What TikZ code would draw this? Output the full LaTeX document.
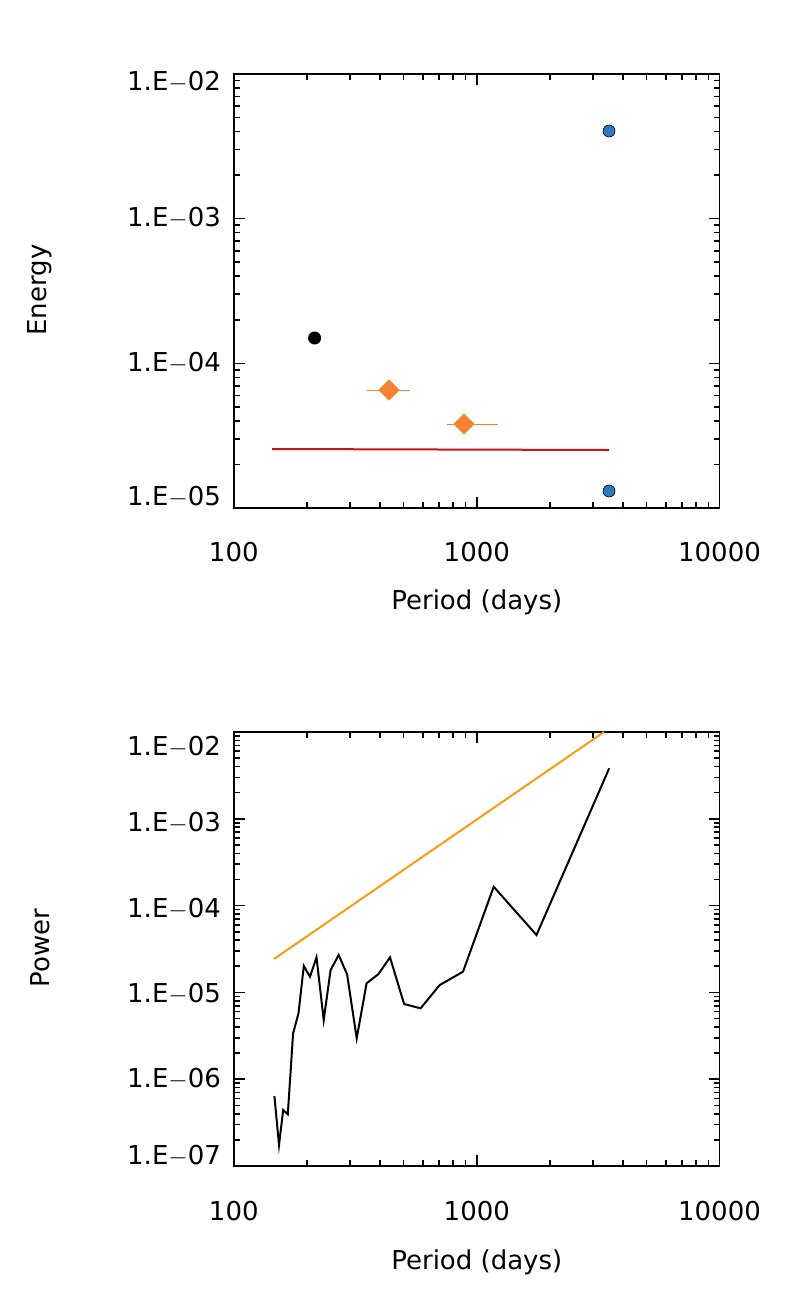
\documentclass[tikz,border=0pt]{standalone}
\usepackage{fontspec}
\setmainfont{DejaVu Sans}
\usepackage{tikz}
\usetikzlibrary{shapes.geometric}
\definecolor{fitred}{RGB}{200,20,20}
\definecolor{diamorange}{RGB}{245,130,50}
\definecolor{lineorange}{RGB}{250,155,20}
\definecolor{dotblue}{RGB}{46,120,190}

\begin{document}
\begin{tikzpicture}[x=1pt,y=1pt,yscale=-1,line width=1.6pt,
  ticklabel/.style={font=\fontsize{26}{28}\selectfont},
  axislabel/.style={font=\fontsize{26}{28}\selectfont},
  bluedot/.style={circle,draw=black,line width=0.6pt,fill=dotblue,inner sep=0pt,minimum size=12pt},
  diam/.style={diamond,fill=diamorange,inner sep=0pt,minimum size=22pt}]
\useasboundingbox (0,0) rectangle (789,1315);

%Top panel frame
\draw (233.8,74) rectangle (719.5,508);
%x ticks top panel
\foreach \d in {0,1}{
  \draw (233.8+243*\d,508) -- ++(0,-11) (233.8+243*\d,74) -- ++(0,11);
  \foreach \m in {2,...,9}{
    \pgfmathsetmacro\xx{233.8+243*(\d+log10(\m))}
    \draw (\xx,508) -- ++(0,-6) (\xx,74) -- ++(0,6);}}
%y ticks top panel
\foreach \d in {0,1,2}{
  \draw (233.8,508-144.7*\d) -- ++(11,0) (719.5,508-144.7*\d) -- ++(-11,0);
  \foreach \m in {2,...,9}{
    \pgfmathsetmacro\yy{508-144.7*(\d+log10(\m))}
    \draw (233.8,\yy) -- ++(6,0) (719.5,\yy) -- ++(-6,0);}}
\foreach \lab/\y in {02/82,03/218,04/363,05/497}
  \node[ticklabel,anchor=east] (ey\lab) at (225,\y) {1.E$-$\lab};
\foreach \lab/\x in {100/233.8,1000/476.8,10000/719.5}
  \node[ticklabel] (ex\lab) at (\x,552) {\lab};
\node[axislabel] (exlabel) at (476.8,602) {Period (days)};
\node[axislabel,rotate=90] (eylabel) at (40,290) {Energy};

%data top panel
\draw[fitred,line width=2pt] (272,449) -- (609,450);
\draw[diamorange,line width=1pt] (367,390) -- (410,390) (447,424) -- (498,424);
\node[diam] (d1) at (389,390) {};
\node[diam] (d2) at (464,424) {};
\node[circle,fill=black,inner sep=0pt,minimum size=13pt] (bk) at (314.6,338) {};
\node[bluedot] (b1) at (609,131) {};
\node[bluedot] (b2) at (609,491) {};

%Bottom panel frame
\draw (233.8,732) rectangle (719.5,1166);
\foreach \d in {0,1}{
  \draw (233.8+243*\d,1166) -- ++(0,-11) (233.8+243*\d,732) -- ++(0,11);
  \foreach \m in {2,...,9}{
    \pgfmathsetmacro\xx{233.8+243*(\d+log10(\m))}
    \draw (\xx,1166) -- ++(0,-6) (\xx,732) -- ++(0,6);}}
\foreach \d in {0,...,4}{
  \draw (233.8,1166-86.8*\d) -- ++(11,0) (719.5,1166-86.8*\d) -- ++(-11,0);
  \foreach \m in {2,...,9}{
    \pgfmathsetmacro\yy{1166-86.8*(\d+log10(\m))}
    \draw (233.8,\yy) -- ++(6,0) (719.5,\yy) -- ++(-6,0);}}
\foreach \lab/\y in {02/747,03/823,04/909,05/994,06/1079,07/1156}
  \node[ticklabel,anchor=east] (py\lab) at (225,\y) {1.E$-$\lab};
\foreach \lab/\x in {100/233.8,1000/476.8,10000/719.5}
  \node[ticklabel] (px\lab) at (\x,1211) {\lab};
\node[axislabel] (pxlabel) at (476.8,1262) {Period (days)};
\node[axislabel,rotate=90] (pylabel) at (40,948) {Power};

%data bottom panel
\draw[lineorange,line width=2pt] (274,959) -- (604,732);
\draw[line width=2pt,line join=miter] (274.4,1096) -- (279,1145) -- (283.2,1110) -- (287.8,1114.3) -- (293.1,1033.3)
  -- (298.5,1013.3) -- (303.8,966) -- (310,976.7) -- (316.5,957.3) -- (323.7,1020) -- (330.6,970)
  -- (338.7,955) -- (347.1,974.3) -- (356.7,1038.3) -- (366.6,983.3) -- (378.5,974) -- (390,957.3)
  -- (404.1,1004) -- (420.6,1008.3) -- (439.7,985) -- (463,971.7) -- (493.7,886.7) -- (536.5,935)
  -- (609.2,768.3);
\end{tikzpicture}
\end{document}
